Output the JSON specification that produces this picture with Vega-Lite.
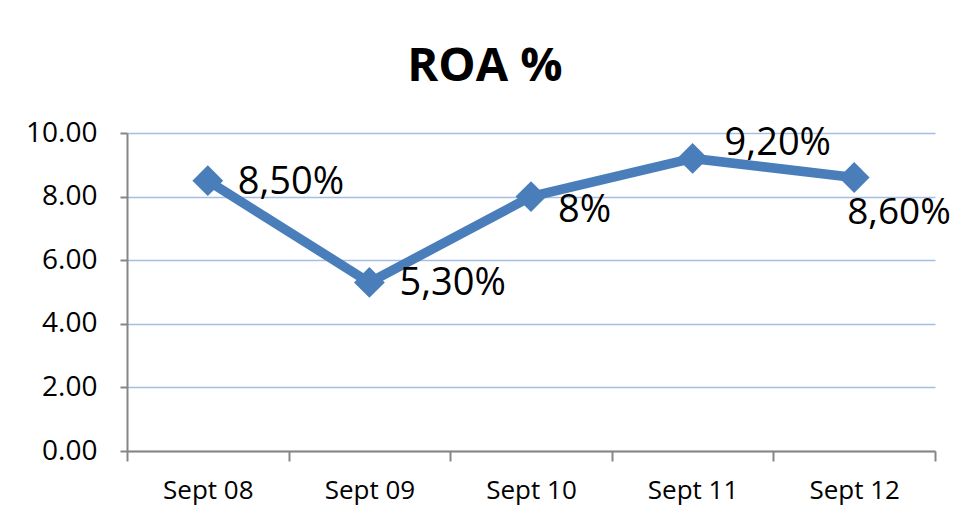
{
  "$schema": "https://vega.github.io/schema/vega-lite/v6.json",
  "autosize": {"type": "none"},
  "padding": {"left": 127, "top": 133, "right": 20, "bottom": 71},
  "width": 808,
  "height": 318,
  "background": "white",
  "title": {
    "text": "ROA %",
    "font": "Open Sans",
    "fontSize": 47,
    "fontWeight": "bold",
    "color": "#000000",
    "anchor": "middle",
    "dx": -46,
    "offset": 28
  },
  "config": {
    "view": {"stroke": null},
    "font": "Open Sans"
  },
  "data": {
    "values": [
      {"period": "Sept 08", "roa": 8.5, "label": "8,50%"},
      {"period": "Sept 09", "roa": 5.3, "label": "5,30%"},
      {"period": "Sept 10", "roa": 8.0, "label": "8%"},
      {"period": "Sept 11", "roa": 9.2, "label": "9,20%"},
      {"period": "Sept 12", "roa": 8.6, "label": "8,60%"}
    ]
  },
  "encoding": {
    "x": {
      "field": "period",
      "type": "ordinal",
      "sort": null,
      "scale": {"type": "band", "paddingInner": 0, "paddingOuter": 0},
      "axis": {
        "title": null,
        "labelAngle": 0,
        "labelFont": "Open Sans",
        "labelFontSize": 26,
        "labelColor": "#000000",
        "labelPadding": 16,
        "tickBand": "extent",
        "tickSize": 10,
        "tickColor": "#868686",
        "domainColor": "#868686",
        "domainWidth": 2,
        "tickWidth": 2,
        "grid": false
      }
    },
    "y": {
      "field": "roa",
      "type": "quantitative",
      "scale": {"domain": [0, 10], "nice": false},
      "axis": {
        "title": null,
        "values": [0, 2, 4, 6, 8, 10],
        "format": ".2f",
        "labelFont": "Open Sans",
        "labelFontSize": 28,
        "labelColor": "#000000",
        "labelPadding": 23,
        "tickSize": 7,
        "tickColor": "#868686",
        "tickWidth": 2,
        "domainColor": "#868686",
        "domainWidth": 2,
        "grid": true,
        "gridColor": "#A6BEE3",
        "gridWidth": 1.5
      }
    }
  },
  "layer": [
    {
      "mark": {"type": "line", "color": "#4A7EBB", "strokeWidth": 9.5, "strokeJoin": "miter"}
    },
    {
      "mark": {"type": "point", "shape": "diamond", "size": 950, "filled": true, "opacity": 1, "color": "#4A7EBB"}
    },
    {
      "transform": [{"filter": "datum.period == 'Sept 08' || datum.period == 'Sept 09'"}],
      "mark": {"type": "text", "align": "left", "baseline": "middle", "dx": 30, "dy": 2, "fontSize": 38, "font": "Open Sans", "color": "#000000"},
      "encoding": {"text": {"field": "label"}}
    },
    {
      "transform": [{"filter": "datum.period == 'Sept 10'"}],
      "mark": {"type": "text", "align": "left", "baseline": "middle", "dx": 27, "dy": 14, "fontSize": 38, "font": "Open Sans", "color": "#000000"},
      "encoding": {"text": {"field": "label"}}
    },
    {
      "transform": [{"filter": "datum.period == 'Sept 11'"}],
      "mark": {"type": "text", "align": "left", "baseline": "middle", "dx": 32, "dy": -14, "fontSize": 38, "font": "Open Sans", "color": "#000000"},
      "encoding": {"text": {"field": "label"}}
    },
    {
      "transform": [{"filter": "datum.period == 'Sept 12'"}],
      "mark": {"type": "text", "align": "left", "baseline": "middle", "dx": -7, "dy": 35, "fontSize": 37, "font": "Open Sans", "color": "#000000"},
      "encoding": {"text": {"field": "label"}}
    }
  ]
}
